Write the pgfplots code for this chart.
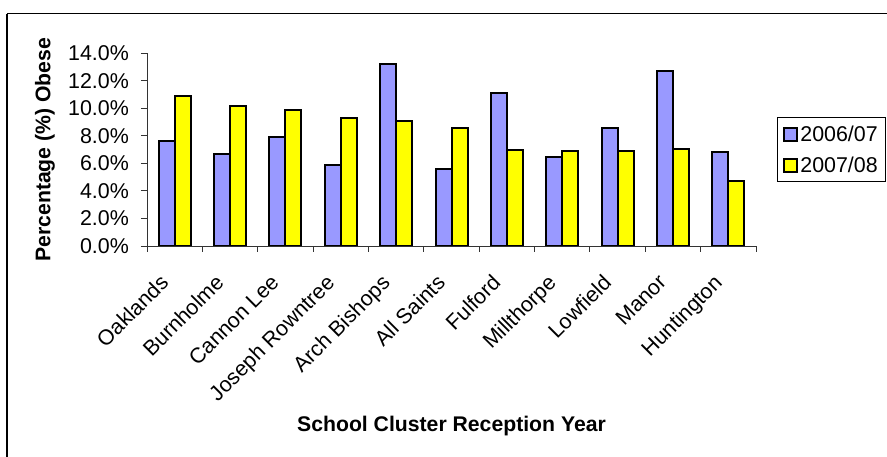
\documentclass[border=0pt]{standalone}
\usepackage{pgfplots}
\usepackage{fontspec}
\setmainfont{Liberation Sans}
\pgfplotsset{compat=1.18}

\definecolor{bluebar}{HTML}{9999FF}
\definecolor{yellowbar}{HTML}{FFFF00}

\begin{document}
\begin{tikzpicture}[x=1pt,y=1pt]
  % outer chart frame, cropped at right and bottom like the reference
  \draw[line width=1.2pt] (7,443.3) -- (7,-20) (7,443.3) -- (920,443.3);

  \begin{axis}[
    at={(147pt,211pt)}, anchor=south west,
    scale only axis,
    width=609pt, height=192.7pt,
    ybar=0pt, bar width=16pt,
    xmin=-0.5, xmax=10.5,
    ymin=0, ymax=14,
    axis x line*=bottom, axis y line*=left,
    axis line style={-, line width=0.9pt, black!80},
    xtick={0,...,10},
    xticklabels={Oaklands,Burnholme,Cannon Lee,Joseph Rowntree,Arch Bishops,All Saints,Fulford,Millthorpe,Lowfield,Manor,Huntington},
    minor xtick={-0.5,0.5,...,10.5},
    ytick={0,2,...,14},
    yticklabels={0.0\%,2.0\%,4.0\%,6.0\%,8.0\%,10.0\%,12.0\%,14.0\%},
    minor ytick={0,2,...,14},
    major tick length=0pt, minor tick length=6pt,
    tick align=outside,
    tick style={line width=0.9pt, black!80},
    /pgf/number format/assume math mode=true,
    every tick label/.append style={font=\fontsize{21.4}{25}\selectfont},
    yticklabel style={anchor=east, inner sep=0pt, xshift=-18pt},
    xticklabel style={xshift=-16pt, yshift=-27pt, rotate=45, anchor=north east, inner sep=0pt},
    ylabel={Percentage (\%) Obese},
    ylabel style={at={(axis description cs:-0.1675,0.5)}, anchor=center, font=\bfseries\fontsize{21.2}{25}\selectfont},
    xlabel={School Cluster Reception Year},
    xlabel style={at={(axis description cs:0.5,-0.934)}, anchor=center, font=\bfseries\fontsize{21.2}{25}\selectfont},
    legend style={at={(1,0.5)}, anchor=west, xshift=21pt, draw=black, line width=0.8pt,
      font=\fontsize{21.4}{25}\selectfont, inner xsep=6pt, inner ysep=6pt, row sep=10pt},
    legend cell align=left,
    legend image code/.code={\draw[#1, line width=2pt] (0pt,-6.5pt) rectangle (13pt,6.5pt);},
  ]
  \addplot[fill=bluebar, draw=black, line width=2pt] coordinates {
    (0,7.6) (1,6.7) (2,7.9) (3,5.9) (4,13.2) (5,5.6)
    (6,11.1) (7,6.5) (8,8.6) (9,12.7) (10,6.8)
  };
  \addplot[fill=yellowbar, draw=black, line width=2pt] coordinates {
    (0,10.9) (1,10.2) (2,9.9) (3,9.3) (4,9.1) (5,8.6)
    (6,6.95) (7,6.9) (8,6.9) (9,7.05) (10,4.7)
  };
  \legend{2006/07,2007/08}
  \end{axis}

  \pgfresetboundingbox
  \useasboundingbox (0,0) rectangle (887,457);
\end{tikzpicture}
\end{document}
